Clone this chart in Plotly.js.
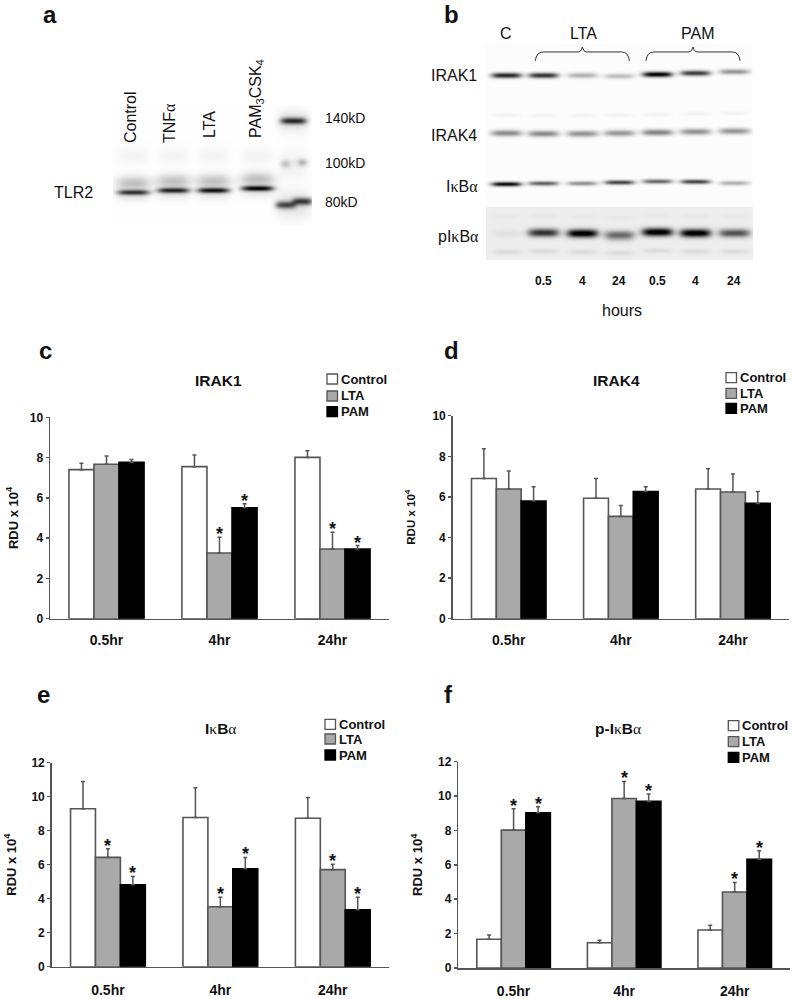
<!DOCTYPE html>
<html><head><meta charset="utf-8">
<script src="https://cdn.plot.ly/plotly-3.0.1.min.js"></script>
<style>html,body{margin:0;padding:0;background:#fff}#chart{width:794px;height:999px}</style>
</head><body><div id="chart"></div>
<script>
// ---------- bar chart data ----------
var timepoints = ['0.5hr','4hr','24hr'];
var seriesNames = ['Control','LTA','PAM'];
var seriesColors = ['#ffffff','#a9a9a9','#000000'];

var irak1Control=[7.40,7.55,8.01], irak1ControlErr=[0.32,0.58,0.33];
var irak1Lta=[7.67,3.26,3.46],     irak1LtaErr=[0.41,0.78,0.83];
var irak1Pam=[7.76,5.51,3.46],     irak1PamErr=[0.15,0.20,0.17];
var irak1Stars=[[0,0,0],[0,1,1],[0,1,1]];

var irak4Control=[6.91,5.93,6.39], irak4ControlErr=[1.46,0.98,1.00];
var irak4Lta=[6.39,5.04,6.24],     irak4LtaErr=[0.88,0.54,0.89];
var irak4Pam=[5.80,6.26,5.68],     irak4PamErr=[0.70,0.24,0.58];
var irak4Stars=[[0,0,0],[0,0,0],[0,0,0]];

var ikbControl=[9.29,8.78,8.73],   ikbControlErr=[1.61,1.75,1.23];
var ikbLta=[6.43,3.53,5.71],       ikbLtaErr=[0.51,0.55,0.31];
var ikbPam=[4.82,5.76,3.35],       ikbPamErr=[0.49,0.67,0.73];
var ikbStars=[[0,0,0],[1,1,1],[1,1,1]];

var pikbControl=[1.67,1.47,2.21],  pikbControlErr=[0.25,0.14,0.27];
var pikbLta=[8.02,9.86,4.42],      pikbLtaErr=[1.24,0.99,0.56];
var pikbPam=[9.03,9.69,6.32],      pikbPamErr=[0.35,0.43,0.50];
var pikbStars=[[0,0,0],[1,1,1],[1,1,1]];

// ---------- blot band densities ----------
var lanesA=[133,173,213,257];
var tlr2Density=[0.72,0.78,0.84,0.90];
var tlr2Row=[192,190,190,188];
var lanesB=[506,543,582,619,657,695,734];
var irak1Density=[0.85,0.80,0.30,0.25,1.00,0.75,0.40];
var irak1Row=[75,75,75,75.7,74,72.7,71.3];
var irak4Density=[0.45,0.45,0.42,0.40,0.48,0.42,0.40];
var irak4Row=[132.7,133.3,133.3,132.7,132,131.3,130.7];
var ikbDensity=[0.95,0.60,0.42,0.72,0.58,0.72,0.30];
var ikbRow=[183.7,183,183,182,181,181.3,182.7];
var pikbDensity=[0.05,0.75,1.00,0.40,1.00,1.00,0.62];
var pikbRow=[233,232.3,233,234,231.7,232.7,232.7];

// ---------- helpers ----------
var W=794,H=999;
var FONT="'Liberation Sans', Arial, sans-serif";
var INK='#111111', AXIS='#555555';
function px(x){return x/W;}
function py(y){return 1-y/H;}
function greek(c){return '<span style="font-family:Liberation Serif;font-weight:normal">'+c+'</span>';}
var kappa=greek('κ'), alpha=greek('α');

var annotations=[], shapes=[], traces=[], layout={};
function label(x,y,text,size,opt){
  opt=opt||{};
  annotations.push({xref:'paper',yref:'paper',x:px(x),y:py(y),text:text,showarrow:false,
    xanchor:opt.anchor||'center',yanchor:'middle',textangle:opt.angle||0,
    font:{family:FONT,size:size,color:INK},borderpad:0,borderwidth:0});
}

// band list -> z image on a one pixel grid
function blot(xRange,yRange,base,bands){
  var xs=[],ys=[],z=[],i,j;
  for(i=xRange[0];i<=xRange[1];i++)xs.push(i);
  for(j=yRange[0];j<=yRange[1];j++)ys.push(j);
  ys.forEach(function(y){
    var row=xs.map(function(x){
      var v=base(y);
      bands.forEach(function(b){
        b.x.forEach(function(cx,k){
          var dx=(x-cx)/b.half, cy=b.y[k], dy=(y-cy)/b.sigma;
          v+=b.d[k]*Math.exp(-Math.pow(Math.abs(dx),b.edge||4))*Math.exp(-dy*dy/2);
        });
      });
      return Math.min(1,v);
    });
    z.push(row);
  });
  return {x:xs,y:ys,z:z};
}
function addBlot(n,xRange,yRange,grid){
  traces.push({type:'heatmap',x:grid.x,y:grid.y,z:grid.z,xaxis:'x'+n,yaxis:'y'+n,zmin:0,zmax:1,
    zsmooth:'best',showscale:false,hoverinfo:'skip',colorscale:[[0,'#ffffff'],[1,'#000000']]});
  layout['xaxis'+n]={domain:[px(xRange[0]),px(xRange[1])],range:[xRange[0]-0.5,xRange[1]+0.5],visible:false,fixedrange:true,anchor:'y'+n};
  layout['yaxis'+n]={domain:[py(yRange[1]),py(yRange[0])],range:[yRange[1]+0.5,yRange[0]-0.5],visible:false,fixedrange:true,anchor:'x'+n};
}
function filled(a,v){return a.map(function(){return v;});}

function panel(n,cfg){
  var sfx=n===1?'':String(n);
  var w=(1-0.335)/3;
  cfg.values.forEach(function(vals,s){
    traces.push({type:'bar',name:seriesNames[s],x:[0,1,2],y:vals,xaxis:'x'+sfx,yaxis:'y'+sfx,showlegend:false,
      marker:{color:seriesColors[s],line:{color:s===2?'#000000':AXIS,width:1.6}},
      error_y:{type:'data',symmetric:false,array:cfg.errs[s],arrayminus:[0,0,0],color:AXIS,thickness:1.5,width:2},
      hoverinfo:'x+y'});
  });
  cfg.stars.forEach(function(flags,s){
    flags.forEach(function(f,g){
      if(f) annotations.push({xref:'x'+sfx,yref:'y'+sfx,x:g+(s-1)*w,y:cfg.values[s][g]+cfg.errs[s][g],
        text:'<b>*</b>',showarrow:false,xanchor:'center',yanchor:'middle',yshift:3,
        font:{family:FONT,size:18,color:INK}});
    });
  });
  layout['xaxis'+sfx]={domain:[px(cfg.box[0]),px(cfg.box[1])],range:[-0.5,2.5],anchor:'y'+sfx,
    tickvals:[0,1,2],ticktext:timepoints,ticks:'',ticklabelstandoff:cfg.xStand,showline:true,linecolor:AXIS,linewidth:1.5,
    showgrid:false,zeroline:false,fixedrange:true,tickfont:{family:FONT,size:14,weight:700,color:INK}};
  layout['yaxis'+sfx]={domain:[py(cfg.box[3]),py(cfg.box[2])],range:[0,cfg.max],dtick:2,anchor:'x'+sfx,
    ticks:'outside',ticklen:3,tickwidth:1.5,tickcolor:AXIS,showline:true,linecolor:AXIS,linewidth:1.5,
    showgrid:false,zeroline:false,fixedrange:true,tickfont:{family:FONT,size:12,weight:700,color:INK},
    title:{text:'<b>RDU x 10<sup>4</sup></b>',standoff:cfg.titleStand,font:{family:FONT,size:cfg.titleSize,color:INK}}};
  label(cfg.title[0],cfg.title[1],'<b>'+cfg.title[2]+'</b>',cfg.title[3]);
  // key
  cfg.key.rows.forEach(function(ky,s){
    shapes.push({type:'rect',xref:'paper',yref:'paper',x0:px(cfg.key.x),x1:px(cfg.key.x+10.5),y0:py(ky+5),y1:py(ky-5),
      fillcolor:seriesColors[s],line:{color:s===2?'#000000':AXIS,width:1.3}});
    label(cfg.key.x+13.5,ky,'<b>'+seriesNames[s]+'</b>',13,{anchor:'left'});
  });
}

// ---------- blots ----------
var blotAx=[113,312], blotAy=[105,226];
var markerLane=[293], markerFaint=[285,302], markerLow=[285,302];
addBlot(5,blotAx,blotAy,blot(blotAx,blotAy,function(){return 0.005;},[
  {x:lanesA,y:tlr2Row,d:tlr2Density,half:16,sigma:1.9},
  {x:lanesA,y:tlr2Row.map(function(v){return v-9;}),d:filled(lanesA,0.24),half:17,sigma:5,edge:3},
  {x:lanesA,y:tlr2Row.map(function(v){return v+4;}),d:filled(lanesA,0.08),half:17,sigma:4},
  {x:lanesA,y:filled(lanesA,156),d:filled(lanesA,0.04),half:16,sigma:6},
  {x:markerLane,y:[120.5],d:[0.72],half:13,sigma:2.3},
  {x:markerLane,y:[120.5],d:[0.13],half:15,sigma:7},
  {x:markerFaint,y:[163.5,162],d:[0.20,0.24],half:5,sigma:2.6,edge:2},
  {x:markerLane,y:[164],d:[0.05],half:14,sigma:10},
  {x:markerLow,y:[204.5,201],d:[0.62,0.68],half:10,sigma:2.6},
  {x:markerLane,y:[204],d:[0.12],half:17,sigma:9}
]));
var blotBx=[486,753], blotBy=[44,260];
addBlot(6,blotBx,blotBy,blot(blotBx,blotBy,function(y){return y>=207?0.07:0.01;},[
  {x:lanesB,y:irak1Row,d:irak1Density,half:15,sigma:1.9},
  {x:lanesB,y:irak4Row,d:irak4Density,half:15.5,sigma:2.2},
  {x:lanesB,y:irak4Row.map(function(v){return v-18;}),d:filled(lanesB,0.04),half:14,sigma:1.5},
  {x:lanesB,y:ikbRow,d:ikbDensity,half:15,sigma:1.6},
  {x:lanesB,y:pikbRow,d:pikbDensity,half:15.5,sigma:2.9},
  {x:lanesB,y:pikbRow.map(function(v){return v+18.5;}),d:filled(lanesB,0.07),half:14,sigma:1.7},
  {x:[619],y:[237],d:[0.18],half:14,sigma:3},
  {x:lanesB,y:pikbRow.map(function(v){return v-17;}),d:filled(lanesB,0.02),half:14,sigma:2}
]));
function bracket(x0,x1,top,bottom){
  var m=(x0+x1)/2;
  return 'M'+x0+','+bottom+' Q'+(x0+1)+','+top+' '+(x0+8)+','+top+' L'+(m-4)+','+top+' Q'+(m-1)+','+top+' '+m+','+(top-5)+
    ' Q'+(m+1)+','+top+' '+(m+4)+','+top+' L'+(x1-8)+','+top+' Q'+(x1-1)+','+top+' '+x1+','+bottom;
}
[[535,629.5],[646,740.5]].forEach(function(b){
  shapes.push({type:'path',xref:'x6',yref:'y6',path:bracket(b[0],b[1],51.5,60.5),line:{color:'#333333',width:1}});
});

// ---------- bar panels ----------
panel(1,{values:[irak1Control,irak1Lta,irak1Pam],errs:[irak1ControlErr,irak1LtaErr,irak1PamErr],stars:irak1Stars,max:10,
  box:[50,389,417.3,618.7],xStand:8,titleStand:8,titleSize:13,title:[219,380.7,'IRAK1',15.5],key:{x:327,rows:[379,396,411.7]}});
panel(2,{values:[irak4Control,irak4Lta,irak4Pam],errs:[irak4ControlErr,irak4LtaErr,irak4PamErr],stars:irak4Stars,max:10,
  box:[452.7,789,415.7,618.7],xStand:8,titleStand:14,titleSize:11.5,title:[616,380.7,'IRAK4',15.5],key:{x:726,rows:[377.7,393.3,408.3]}});
panel(3,{values:[ikbControl,ikbLta,ikbPam],errs:[ikbControlErr,ikbLtaErr,ikbPamErr],stars:ikbStars,max:12,
  box:[51.7,389,762.7,966.7],xStand:10,titleStand:12,titleSize:13,title:[220,728,'I'+kappa+'B'+alpha,15.5],key:{x:325,rows:[724.3,739,755]}});
panel(4,{values:[pikbControl,pikbLta,pikbPam],errs:[pikbControlErr,pikbLtaErr,pikbPamErr],stars:pikbStars,max:12,
  box:[458.3,790,761.7,968],xStand:10,titleStand:12,titleSize:13,title:[618,728,'p-I'+kappa+'B'+alpha,15.5],key:{x:728.3,rows:[725.7,741.7,757.3]}});

// ---------- labels ----------
label(50,15,'<b>a</b>',24); label(451,14,'<b>b</b>',24);
label(45.7,350,'<b>c</b>',24); label(451,350,'<b>d</b>',24);
label(43,694,'<b>e</b>',24); label(448,694,'<b>f</b>',24);

label(130,117,'Control',16,{angle:-90});
label(169,123,'TNF'+alpha,16,{angle:-90});
label(210,125,'LTA',16,{angle:-90});
label(257,99,'PAM<sub>3</sub>CSK<sub>4</sub>',16,{angle:-90});
label(73,193,'TLR2',16);
label(325,118,'140kD',14,{anchor:'left'});
label(325,163,'100kD',14,{anchor:'left'});
label(325,202,'80kD',14,{anchor:'left'});

label(505.7,33,'C',16); label(583,33,'LTA',16); label(697,33,'PAM',16);
label(477,75.7,'IRAK1',16,{anchor:'right'});
label(477,135.7,'IRAK4',16,{anchor:'right'});
label(478,186.7,'I'+kappa+'B'+alpha,16,{anchor:'right'});
label(479,237,'pI'+kappa+'B'+alpha,16,{anchor:'right'});
var hourLabels=['0.5','4','24','0.5','4','24'];
hourLabels.forEach(function(t,i){ label(lanesB[i+1],281,'<b>'+t+'</b>',12); });
label(622,310,'hours',16);

layout.width=W; layout.height=H;
layout.margin={l:0,r:0,t:0,b:0,pad:0};
layout.paper_bgcolor='#ffffff'; layout.plot_bgcolor='rgba(0,0,0,0)';
layout.barmode='group'; layout.bargap=0.335; layout.bargroupgap=0;
layout.showlegend=false; layout.annotations=annotations; layout.shapes=shapes;
layout.font={family:FONT,color:INK};
Plotly.newPlot('chart',traces,layout,{displayModeBar:false,staticPlot:true});
</script></body></html>
